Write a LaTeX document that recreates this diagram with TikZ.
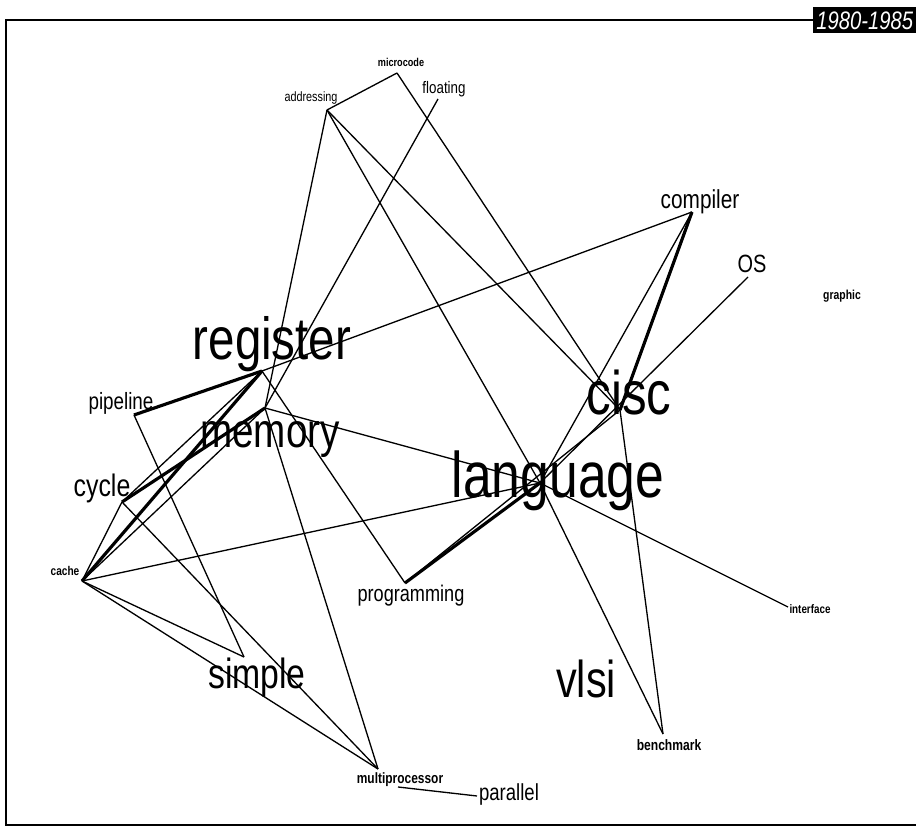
\documentclass[tikz,border=0pt]{standalone}
\usepackage{fontspec}
\setmainfont[FakeStretch=0.8]{Liberation Sans}
\newcommand\fsz[1]{\fontsize{#1}{#1}\selectfont}
\begin{document}
\begin{tikzpicture}[x=0.02cm, y=-0.02cm,
    word/.style={anchor=base, inner sep=0pt},
    link/.style={line width=0.75pt},
    strong/.style={line width=1.8pt}]
    \useasboundingbox (0,0) rectangle (916,830);

    % frame and period tag
    \draw[line width=1.1pt] (813,20) -- (6,20) -- (6,825) -- (916,825);
    \node[fill=black, text=white, font=\fsz{14.4pt}\itshape, inner sep=0pt,
          minimum width=2.06cm, minimum height=0.52cm, anchor=north west] (period) at (813,7) {1980-1985};

    % points where the links meet
    \coordinate (p-micro) at (397,73);
    \coordinate (p-addr) at (327,110);
    \coordinate (p-float) at (438,99);
    \coordinate (p-comp) at (692,212);
    \coordinate (p-os) at (748,277);
    \coordinate (p-reg) at (262,371);
    \coordinate (p-pipe) at (134,415);
    \coordinate (p-mem) at (265,408);
    \coordinate (p-cycle) at (122,502);
    \coordinate (p-cache) at (82,581);
    \coordinate (p-simple) at (244,657);
    \coordinate (p-multi) at (378,769);
    \coordinate (p-multi2) at (398,787);
    \coordinate (p-par) at (477,796);
    \coordinate (p-prog) at (405,583);
    \coordinate (p-lang) at (540,483);
    \coordinate (p-cisc) at (620,410);
    \coordinate (p-iface) at (788,607);
    \coordinate (p-bench) at (663,734);

    % terms
    \node[word, font=\fsz{6.5pt}\bfseries] (microcode) at (401,67) {microcode};
    \node[word, font=\fsz{7.7pt}] (addressing) at (311,102) {addressing};
    \node[word, font=\fsz{9.5pt}] (floating) at (444,94) {floating};
    \node[word, font=\fsz{14.8pt}] (compiler) at (700,209) {compiler};
    \node[word, font=\fsz{14.2pt}] (os) at (752,273) {OS};
    \node[word, font=\fsz{7.4pt}\bfseries] (graphic) at (842,300) {graphic};
    \node[word, font=\fsz{33.8pt}] (register) at (272,360) {register};
    \node[word, font=\fsz{13.4pt}] (pipeline) at (121,410) {pipeline};
    \node[word, font=\fsz{27.5pt}] (memory) at (270,448) {memory};
    \node[word, font=\fsz{35pt}] (cisc) at (629,415) {cisc};
    \node[word, font=\fsz{36.7pt}] (language) at (558,498) {language};
    \node[word, font=\fsz{17.7pt}] (cycle) at (102,497) {cycle};
    \node[word, font=\fsz{7.2pt}\bfseries] (cache) at (65,576) {cache};
    \node[word, font=\fsz{12.9pt}] (programming) at (411,602) {programming};
    \node[word, font=\fsz{7pt}\bfseries] (interface) at (810,614) {interface};
    \node[word, font=\fsz{24pt}] (simple) at (257,688) {simple};
    \node[word, font=\fsz{29.5pt}] (vlsi) at (586,697) {vlsi};
    \node[word, font=\fsz{8.6pt}\bfseries] (benchmark) at (669,750) {benchmark};
    \node[word, font=\fsz{8.5pt}\bfseries] (multiprocessor) at (400,783) {multiprocessor};
    \node[word, font=\fsz{13.2pt}] (parallel) at (509,800) {parallel};

    % links
    \draw[link] (p-addr) -- (p-micro);
    \draw[link] (p-addr) -- (p-mem);
    \draw[link] (p-addr) -- (p-lang);
    \draw[link] (p-addr) -- (p-cisc);
    \draw[link] (p-micro) -- (p-cisc);
    \draw[link] (p-float) -- (p-mem);
    \draw[strong] (p-reg) -- (p-pipe);
    \draw[link] (p-reg) -- (p-comp);
    \draw[link] (p-reg) -- (p-prog);
    \draw[strong] (p-reg) -- (p-cache);
    \draw[link] (p-reg) -- (p-cycle);
    \draw[strong] (p-mem) -- (p-cycle);
    \draw[link] (p-mem) -- (p-cache);
    \draw[link] (p-mem) -- (p-lang);
    \draw[link] (p-mem) -- (p-multi);
    \draw[link] (p-cycle) -- (p-cache);
    \draw[link] (p-cycle) -- (p-multi);
    \draw[link] (p-cache) -- (p-lang);
    \draw[link] (p-cache) -- (p-simple);
    \draw[link] (p-cache) -- (p-multi);
    \draw[link] (p-pipe) -- (p-simple);
    \draw[link] (p-multi2) -- (p-par);
    \draw[strong] (p-prog) -- (p-lang);
    \draw[link] (p-prog) -- (p-cisc);
    \draw[strong] (p-comp) -- (p-cisc);
    \draw[link] (p-comp) -- (p-lang);
    \draw[link] (p-os) -- (p-lang);
    \draw[link] (p-cisc) -- (p-bench);
    \draw[link] (p-lang) -- (p-bench);
    \draw[link] (p-lang) -- (p-iface);
\end{tikzpicture}
\end{document}
